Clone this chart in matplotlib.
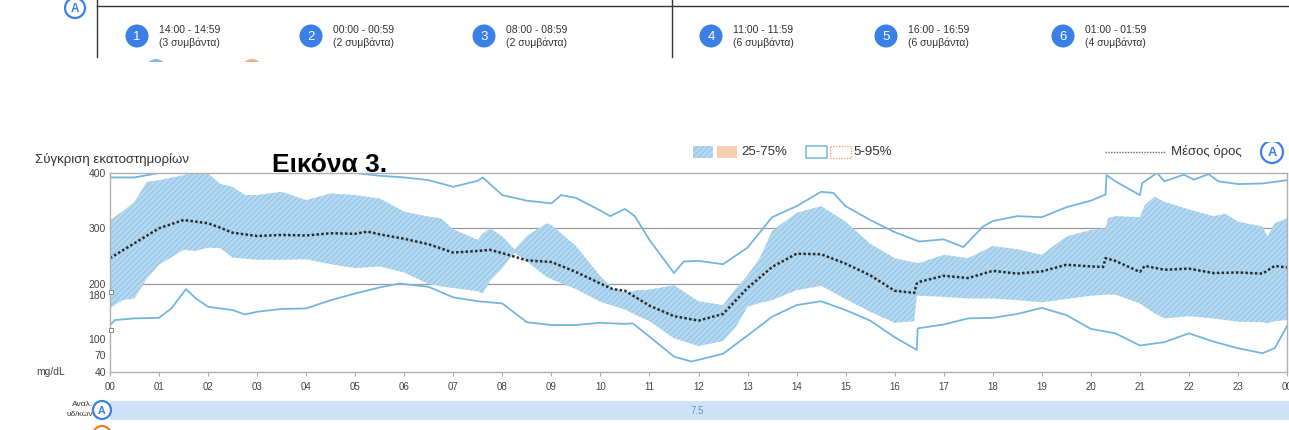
import matplotlib.pyplot as plt
from matplotlib.patches import Circle, Rectangle
import numpy as np

plt.rcParams['font.family'] = ['Liberation Sans', 'DejaVu Sans']
plt.rcParams['hatch.linewidth'] = 0.6

# ---- data ----
band_hours = [0, 0.25, 0.5, 0.75, 1, 1.5, 1.75, 2, 2.25, 2.5, 2.75, 3, 3.5, 4, 4.5, 5, 5.5, 6,
              6.5, 6.75, 7, 7.5, 7.6, 7.75, 8, 8.25, 8.5, 8.9, 9, 9.5, 10, 10.25, 10.5, 10.75,
              11, 11.5, 12, 12.5, 12.75, 13, 13.25, 13.5, 14, 14.5, 15, 15.5, 16, 16.4, 16.45,
              16.5, 17, 17.5, 18, 18.5, 19, 19.5, 20, 20.3, 20.35, 20.5, 21, 21.1, 21.3, 21.5,
              22, 22.5, 22.75, 23, 23.5, 23.6, 23.75, 24]
p75 = [315, 330, 348, 384, 387, 396, 402, 399, 380, 375, 360, 360, 366, 351, 363, 360, 354, 330,
       321, 318, 298, 279, 290, 300, 285, 262, 286, 309, 306, 268, 213, 192, 184, 188,
       189, 197, 168, 161, 190, 215, 246, 295, 328, 340, 312, 272, 246, 238, 238,
       237, 252, 246, 268, 262, 252, 285, 297, 300, 318, 322, 320, 342, 357, 348,
       334, 322, 326, 312, 303, 285, 309, 318]
p25 = [155, 170, 173, 209, 234, 261, 259, 265, 264, 247, 245, 243, 243, 244, 235, 228, 231, 220,
       199, 195, 192, 186, 182, 205, 228, 256, 240, 212, 208, 190, 167, 160, 153, 142,
       132, 101, 87, 96, 120, 158, 165, 170, 188, 196, 172, 149, 129, 132, 177,
       178, 176, 173, 173, 170, 166, 172, 178, 180, 180, 180, 164, 158, 146, 137,
       141, 137, 134, 131, 130, 128, 132, 134]

mean_hours = [0, 0.5, 1, 1.5, 2, 2.25, 2.5, 3, 3.5, 4, 4.5, 5, 5.25, 5.5, 6, 6.5, 7, 7.5, 7.75,
              8, 8.5, 9, 9.5, 10, 10.25, 10.5, 11, 11.5, 12, 12.5, 13, 13.5, 14, 14.5, 15,
              15.5, 16, 16.4, 16.45, 16.5, 17, 17.5, 18, 18.5, 19, 19.5, 20, 20.25, 20.3,
              20.5, 21, 21.1, 21.5, 22, 22.5, 23, 23.5, 23.75, 24]
mean = [246, 273, 300, 315, 309, 301, 292, 286, 288, 287, 291, 290, 294, 289, 281, 271, 256, 259, 261,
        255, 242, 239, 221, 200, 190, 187, 160, 141, 133, 145, 192, 230, 254, 253, 236,
        215, 187, 183, 200, 203, 214, 210, 223, 218, 222, 234, 231, 230, 246,
        241, 221, 232, 225, 227, 219, 220, 218, 232, 229]

p5_hours = [0, 0.1, 0.5, 1, 1.25, 1.55, 1.75, 2, 2.5, 2.75, 3, 3.5, 4, 4.5, 5, 5.5, 5.9, 6.5, 7,
            7.5, 8, 8.5, 9, 9.5, 10, 10.5, 10.66, 11, 11.5, 11.85, 12, 12.5, 13, 13.5, 14,
            14.5, 15, 15.5, 16, 16.45, 16.47, 17, 17.5, 18, 18.5, 19, 19.5, 20, 20.5, 21,
            21.5, 22, 22.5, 23, 23.5, 23.75, 24]
p5 = [125, 134, 137, 138, 155, 190, 173, 158, 152, 144, 149, 154, 155, 170, 182, 193, 200, 194, 175,
      168, 164, 130, 125, 125, 129, 127, 128, 104, 68, 59, 62, 73, 106, 140, 161,
      168, 152, 133, 103, 80, 119, 126, 137, 138, 145, 156, 143, 118, 110, 88,
      94, 110, 95, 83, 74, 83, 123]

p95_hours = [0, 0.5, 1, 1.5, 2, 2.5, 3, 3.5, 4, 4.5, 5, 5.5, 6, 6.5, 7, 7.5, 7.6, 8, 8.5, 9, 9.2,
             9.5, 10, 10.2, 10.5, 10.7, 11, 11.5, 11.7, 12, 12.5, 13, 13.5, 14, 14.5, 14.75,
             15, 15.5, 16, 16.5, 17, 17.4, 17.8, 18, 18.5, 19, 19.5, 20, 20.3, 20.32, 20.5,
             21, 21.05, 21.35, 21.5, 21.9, 22.1, 22.4, 22.6, 23, 23.5, 24]
p95 = [392, 392, 400, 400, 400, 400, 400, 400, 400, 400, 400, 395, 392, 387, 375, 386, 392, 360, 350, 345, 360,
       355, 332, 322, 335, 322, 279, 219, 240, 241, 235, 265, 320, 340, 366, 364,
       340, 315, 293, 276, 280, 266, 303, 313, 322, 320, 338, 350, 361, 396, 385,
       360, 382, 400, 385, 397, 388, 398, 385, 380, 381, 387]

start_marks = [185, 116]

y_ticks = [40, 70, 100, 180, 200, 300, 400]
x_labels = ['%02d' % (h % 24) for h in range(25)]

slots = [('1', '14:00 - 14:59', '(3 συμβάντα)'),
         ('2', '00:00 - 00:59', '(2 συμβάντα)'),
         ('3', '08:00 - 08:59', '(2 συμβάντα)'),
         ('4', '11:00 - 11:59', '(6 συμβάντα)'),
         ('5', '16:00 - 16:59', '(6 συμβάντα)'),
         ('6', '01:00 - 01:59', '(4 συμβάντα)')]
slot_x = [137, 311, 484, 711, 886, 1063]

ratio_label = '7.5'

W, H = 1289, 430
blue_line = '#74b6de'
band_col = '#b3d8f0'
badge = '#3a80e6'
txt = '#333333'

fig = plt.figure(figsize=(W / 100, H / 100), dpi=100)

# main percentile chart
ax = fig.add_axes([110 / W, (H - 372) / H, (1287 - 110) / W, (372 - 173) / H])
ax.set_zorder(1)
ax.fill_between(band_hours, p25, p75, facecolor=band_col, edgecolor='#8cc1e5',
                hatch='//////', linewidth=0)
ax.plot(p5_hours, p5, color=blue_line, lw=1.3)
ax.plot(p95_hours, p95, color=blue_line, lw=1.3)
ax.plot(mean_hours, mean, color='#2b2b2b', lw=1.8, linestyle=(0, (1, 0.9)))
ax.plot([0.03] * len(start_marks), start_marks, 's', ms=3.5, mfc='white', mec='#888888',
        mew=0.7, clip_on=False, zorder=5)
for g in [200, 300]:
    ax.axhline(g, color='#9a9a9a', lw=0.9, zorder=0.5)
ax.set_xlim(0, 24)
ax.set_ylim(40, 400)
ax.set_yticks(y_ticks)
ax.set_yticklabels([str(v) for v in y_ticks])
ax.set_xticks(range(25))
ax.set_xticklabels(x_labels)
ax.tick_params(axis='y', length=0, pad=3, labelsize=7.5, labelcolor='#444444')
ax.tick_params(axis='x', length=3, color='#aaaaaa', pad=4, labelsize=7, labelcolor='#444444')
for s in ax.spines.values():
    s.set_color('#b0b0b0')
    s.set_linewidth(1)

# overlay in pixel coordinates for the report decorations
ov = fig.add_axes([0, 0, 1, 1])
ov.set_zorder(2)
ov.set_xlim(0, W)
ov.set_ylim(H, 0)
ov.axis('off')
ov.patch.set_alpha(0)


def ring(x, y, r, col, letter):
    ov.add_patch(Circle((x, y), r, facecolor='white', edgecolor=col, lw=1.6))
    ov.text(x, y + 0.5, letter, color=col, fontsize=r * 0.85, fontweight='bold',
            ha='center', va='center')


# top strip
ov.plot([97, W], [6, 6], color='#333333', lw=1)
ov.plot([97, 97], [0, 57], color='#333333', lw=1)
ov.plot([672, 672], [0, 57], color='#333333', lw=1)
ring(75, 8, 10, badge, 'A')
for (num, span, cnt), x in zip(slots, slot_x):
    ov.add_patch(Circle((x, 36), 11.5, facecolor=badge, edgecolor='none'))
    ov.text(x, 37, num, color='white', fontsize=9.5, ha='center', va='center')
    ov.text(x + 22, 30, span, color=txt, fontsize=7.5, va='center')
    ov.text(x + 22, 43, cnt, color=txt, fontsize=7.5, va='center')
ov.add_patch(Circle((156, 69), 10, facecolor='#8ab8ee', edgecolor='none'))
ov.add_patch(Circle((252, 69), 10, facecolor='#f3b083', edgecolor='none'))
ov.add_patch(Rectangle((0, 62), W, 80, facecolor='white', edgecolor='none', zorder=3))

# titles
ov.text(35, 160, 'Σύγκριση εκατοστημορίων', color=txt, fontsize=9.5, va='center')
ov.text(272, 165, 'Εικόνα 3.', color='black', fontsize=19, fontweight='bold', va='center')

# legend
ov.add_patch(Rectangle((693, 146), 20, 12, facecolor=band_col, edgecolor='#8cc1e5',
                       hatch='//////', lw=0))
ov.add_patch(Rectangle((717, 146), 20, 12, facecolor='#f6cfb3', edgecolor='none'))
ov.text(741, 152, '25-75%', color=txt, fontsize=9.5, va='center')
ov.add_patch(Rectangle((806, 146), 21, 12, facecolor='white', edgecolor=blue_line, lw=1.1))
ov.add_patch(Rectangle((830, 146), 21, 12, facecolor='white', edgecolor='#f0a67a', lw=1,
                       linestyle=(0, (1, 1))))
ov.text(853, 152, '5-95%', color=txt, fontsize=9.5, va='center')
ov.plot([1105, 1165], [152, 152], color='#666666', lw=1, linestyle=(0, (1, 1)))
ov.text(1171, 152, 'Μέσος όρος', color=txt, fontsize=9.5, va='center')
ring(1272, 152, 11, badge, 'A')

# y unit
ov.text(65, 372, 'mg/dL', color='#444444', fontsize=7.5, ha='right', va='center')

# bottom ratio bar
ov.add_patch(Rectangle((110, 401), W - 110, 19, facecolor='#cfe2f8', edgecolor='none'))
ov.text(697, 411, ratio_label, color='#5b9bd5', fontsize=7, ha='center', va='center')
ov.text(93, 405, 'Αναλ.', color=txt, fontsize=6, ha='right', va='center')
ov.text(93, 415, 'υδ/κων', color=txt, fontsize=6, ha='right', va='center')
ring(102, 410, 9, badge, 'A')
ov.add_patch(Circle((102, 435), 9, facecolor='white', edgecolor='#f07a30', lw=1.6))

fig.savefig('out.png', dpi=100)
